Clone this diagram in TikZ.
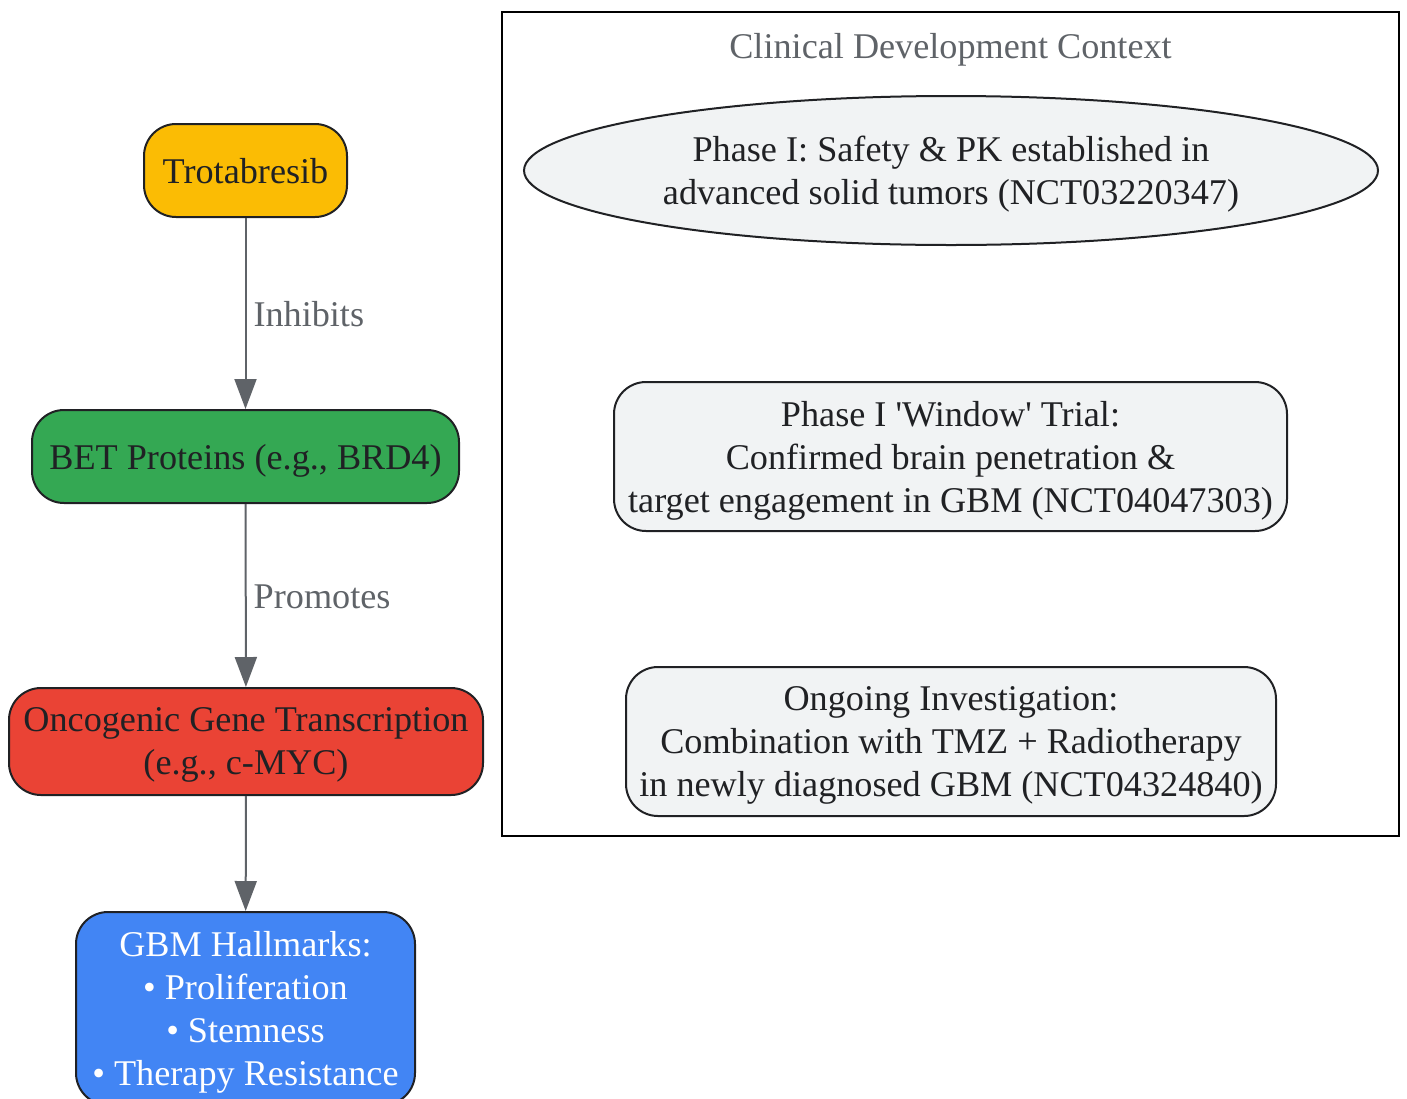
\documentclass[tikz,border=0pt]{standalone}
\usepackage{fontspec}
\setmainfont{Liberation Serif}[Ligatures=TeXOff]
\usetikzlibrary{arrows.meta,shapes.geometric}
\definecolor{ink}{HTML}{202124}
\definecolor{edgegray}{HTML}{5F6368}
\definecolor{lightfill}{HTML}{F1F3F4}
\definecolor{gyellow}{HTML}{FBBC04}
\definecolor{ggreen}{HTML}{34A853}
\definecolor{gred}{HTML}{EA4335}
\definecolor{gblue}{HTML}{4285F4}
\tikzset{
  bigfont/.style={font=\fontsize{36.2}{43}\selectfont, text depth=0pt},
  txt/.style={bigfont, align=center, text=ink},
  multi/.style={text depth=-3pt},
  box/.style={txt, draw=ink, line width=2pt, rounded corners=32pt, inner sep=0pt},
  edge/.style={draw=edgegray, line width=2pt, -{Triangle[length=30pt,width=22pt]}},
  elabel/.style={bigfont, text height=26pt, text=edgegray, inner sep=7pt, right}
}
\begin{document}
\begin{tikzpicture}[x=1pt,y=-1pt]
\useasboundingbox (0,0) rectangle (1407,1098);
\clip (0,0) rectangle (1407,1098);
% cluster
\draw[black, line width=2.4pt] (502,12) rectangle (1399,836);
\node[bigfont, text height=26pt, text=edgegray] (ctitle) at (950.5,45) {Clinical Development Context};
\node[txt, multi, ellipse, draw=ink, line width=2pt, fill=lightfill, minimum width=854pt, minimum height=149pt, inner sep=0pt] (p1) at (951,170.5) {Phase I: Safety \& PK established in\\advanced solid tumors (NCT03220347)};
\node[box, multi, fill=lightfill, minimum width=673pt, minimum height=149pt] (win) at (950.5,456.5) {Phase I 'Window' Trial:\\Confirmed brain penetration \&\\target engagement in GBM (NCT04047303)};
\node[box, multi, fill=lightfill, minimum width=650pt, minimum height=149pt] (ongo) at (951,741.5) {Ongoing Investigation:\\Combination with TMZ + Radiotherapy\\in newly diagnosed GBM (NCT04324840)};
% pathway
\node[box, text height=26pt, fill=gyellow, minimum width=203pt, minimum height=93pt] (tro) at (245.5,170.5) {Trotabresib};
\node[box, text height=26pt, fill=ggreen, minimum width=427pt, minimum height=93pt] (bet) at (245.5,456.5) {BET Proteins (e.g., BRD4)};
\node[box, multi, fill=gred, minimum width=474pt, minimum height=107pt] (onco) at (246,741.5) {Oncogenic Gene Transcription\\(e.g., c-MYC)};
\node[box, multi, fill=gblue, text=white, minimum width=339pt, minimum height=193pt] (gbm) at (245.5,1008.5) {GBM Hallmarks:\\• Proliferation\\• Stemness\\• Therapy Resistance};
\draw[edge] (tro) -- node[elabel] {Inhibits} (bet);
\draw[edge] (bet) -- node[elabel] {Promotes} (onco);
\draw[edge] (onco) -- (gbm);
\end{tikzpicture}
\end{document}
